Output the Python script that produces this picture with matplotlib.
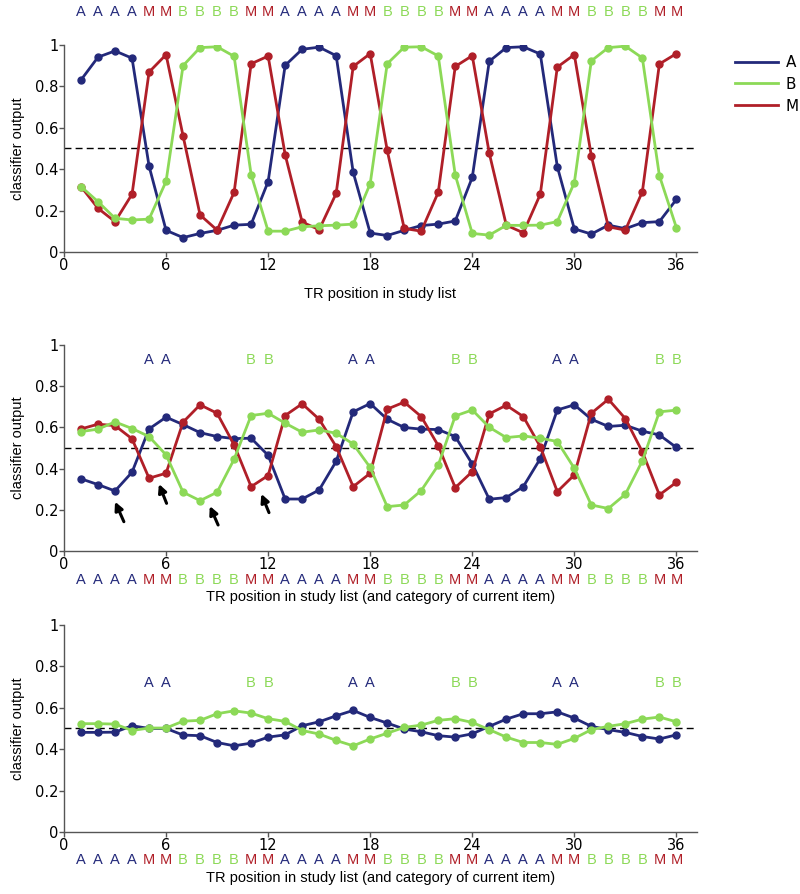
"""
Classifier output across TR positions in the study list (three panels).
"""

import matplotlib.pyplot as plt
from matplotlib.lines import Line2D

# category sequence of the study list (one per TR)
categories = list("AAAAMMBBBBMM" * 3)
tr = list(range(1, 37))

# top panel
top_a = [0.83, 0.94, 0.97, 0.935, 0.415, 0.105, 0.07, 0.09, 0.105, 0.13, 0.134, 0.34,
         0.90, 0.978, 0.988, 0.947, 0.385, 0.092, 0.08, 0.105, 0.128, 0.135, 0.15, 0.36,
         0.92, 0.986, 0.99, 0.955, 0.412, 0.112, 0.087, 0.13, 0.113, 0.142, 0.147, 0.254]
top_b = [0.316, 0.243, 0.163, 0.155, 0.159, 0.341, 0.899, 0.986, 0.99, 0.944, 0.374, 0.101,
         0.101, 0.122, 0.127, 0.13, 0.135, 0.33, 0.908, 0.988, 0.99, 0.946, 0.372, 0.09,
         0.082, 0.129, 0.129, 0.13, 0.147, 0.335, 0.922, 0.986, 0.993, 0.936, 0.369, 0.118]
top_m = [0.316, 0.211, 0.147, 0.279, 0.868, 0.952, 0.56, 0.179, 0.106, 0.288, 0.908, 0.945,
         0.47, 0.145, 0.108, 0.283, 0.895, 0.957, 0.491, 0.114, 0.101, 0.288, 0.895, 0.947,
         0.477, 0.13, 0.093, 0.279, 0.892, 0.952, 0.464, 0.122, 0.106, 0.291, 0.907, 0.957]

# middle panel
mid_a = [0.35, 0.322, 0.291, 0.382, 0.592, 0.649, 0.613, 0.574, 0.555, 0.545, 0.547, 0.464,
         0.252, 0.252, 0.296, 0.435, 0.675, 0.715, 0.639, 0.599, 0.591, 0.589, 0.555, 0.422,
         0.251, 0.259, 0.312, 0.448, 0.684, 0.709, 0.639, 0.604, 0.61, 0.581, 0.563, 0.502]
mid_b = [0.579, 0.591, 0.626, 0.594, 0.555, 0.466, 0.285, 0.244, 0.285, 0.445, 0.657, 0.668,
         0.62, 0.576, 0.587, 0.571, 0.519, 0.405, 0.215, 0.223, 0.293, 0.416, 0.655, 0.684,
         0.6, 0.55, 0.558, 0.547, 0.531, 0.401, 0.223, 0.206, 0.275, 0.437, 0.675, 0.683]
mid_m = [0.592, 0.615, 0.608, 0.544, 0.353, 0.377, 0.625, 0.709, 0.668, 0.515, 0.312, 0.366,
         0.657, 0.714, 0.639, 0.506, 0.312, 0.377, 0.688, 0.722, 0.652, 0.511, 0.307, 0.385,
         0.665, 0.707, 0.652, 0.506, 0.288, 0.369, 0.668, 0.736, 0.642, 0.481, 0.272, 0.333]

# bottom panel
bot_a = [0.481, 0.481, 0.482, 0.513, 0.5, 0.5, 0.468, 0.465, 0.432, 0.416, 0.429, 0.458,
         0.469, 0.513, 0.532, 0.561, 0.587, 0.553, 0.526, 0.497, 0.484, 0.465, 0.458, 0.474,
         0.51, 0.545, 0.571, 0.571, 0.58, 0.55, 0.51, 0.494, 0.481, 0.461, 0.449, 0.469]
bot_b = [0.523, 0.523, 0.521, 0.49, 0.502, 0.502, 0.535, 0.539, 0.571, 0.585, 0.574, 0.547,
         0.534, 0.49, 0.473, 0.442, 0.416, 0.449, 0.477, 0.505, 0.516, 0.539, 0.547, 0.529,
         0.494, 0.458, 0.432, 0.432, 0.423, 0.452, 0.494, 0.51, 0.523, 0.545, 0.555, 0.532]

# TR pairs flagged above the curves in the lower panels
flag_x = [5, 6, 11, 12, 17, 18, 23, 24, 29, 30, 35, 36]
flag_cat = list("AABBAABBAABB")

# arrows in middle panel: (tail x, tail y, head x, head y)
arrows = [(3.52, 0.142, 3.0, 0.239), (6.03, 0.231, 5.58, 0.325),
          (9.06, 0.126, 8.57, 0.218), (12.05, 0.186, 11.6, 0.277)]

COLORS = {"A": "#23297a", "B": "#8cd957", "M": "#b01f28"}
LABEL_FONT = ["Liberation Sans", "DejaVu Sans"]


def style_axes(ax):
    ax.set_xlim(0, 37.2)
    ax.set_ylim(0, 1)
    ax.set_xticks(range(0, 37, 6))
    ax.set_yticks([0, 0.2, 0.4, 0.6, 0.8, 1])
    ax.set_yticklabels(["0", "0.2", "0.4", "0.6", "0.8", "1"])
    for side in ("top", "right"):
        ax.spines[side].set_visible(False)
    for side in ("left", "bottom"):
        ax.spines[side].set_color("#555555")
        ax.spines[side].set_linewidth(1.0)
    ax.tick_params(direction="out", length=3.5, width=1, color="#555555",
                   labelsize=10.5, pad=0.5)
    ax.axhline(0.5, color="black", lw=1, ls=(0, (5, 3)), xmax=1.0, clip_on=False)
    ax.set_ylabel("classifier output", fontsize=10.5, family=LABEL_FONT, labelpad=7)


def plot_series(ax, ys, cat):
    ax.plot(tr, ys, color=COLORS[cat], lw=2, marker="o", ms=5, zorder=3)


def category_row(ax, y, transform):
    for x, c in zip(tr, categories):
        ax.text(x, y, c, color=COLORS[c], ha="center", va="center",
                fontsize=10.5, family=LABEL_FONT, transform=transform,
                clip_on=False)


fig = plt.figure(figsize=(8, 8.94), dpi=100)
left, width = 0.08, 0.791

# top panel
ax1 = fig.add_axes([left, 0.718, width, 0.232])
plot_series(ax1, top_a, "A")
plot_series(ax1, top_m, "M")
plot_series(ax1, top_b, "B")
style_axes(ax1)
category_row(ax1, 1.16, ax1.get_xaxis_transform())
ax1.set_xlabel("TR position in study list", fontsize=10.5, family=LABEL_FONT,
               labelpad=10)

handles = [Line2D([], [], color=COLORS[c], lw=2) for c in "ABM"]
fig.legend(handles, list("ABM"), loc="upper left", bbox_to_anchor=(0.902, 0.954),
           frameon=False, fontsize=11, handlelength=2.8, labelspacing=0.45,
           handletextpad=0.5)

# middle panel
ax2 = fig.add_axes([left, 0.3837, width, 0.2306])
plot_series(ax2, mid_a, "A")
plot_series(ax2, mid_m, "M")
plot_series(ax2, mid_b, "B")
style_axes(ax2)
category_row(ax2, -0.142, ax2.get_xaxis_transform())
for x, c in zip(flag_x, flag_cat):
    ax2.text(x, 0.927, c, color=COLORS[c], ha="center", va="center",
             fontsize=10.5, family=LABEL_FONT)
for tx, ty, hx, hy in arrows:
    ax2.annotate("", xy=(hx, hy), xytext=(tx, ty),
                 arrowprops=dict(arrowstyle="-|>", color="black", lw=2.2,
                                 mutation_scale=12, shrinkA=0, shrinkB=0))
ax2.set_xlabel("TR position in study list (and category of current item)",
               fontsize=10.5, family=LABEL_FONT, labelpad=13)

# bottom panel
ax3 = fig.add_axes([left, 0.0694, width, 0.2316])
plot_series(ax3, bot_a, "A")
plot_series(ax3, bot_b, "B")
style_axes(ax3)
category_row(ax3, -0.134, ax3.get_xaxis_transform())
for x, c in zip(flag_x, flag_cat):
    ax3.text(x, 0.72, c, color=COLORS[c], ha="center", va="center",
             fontsize=10.5, family=LABEL_FONT)
ax3.set_xlabel("TR position in study list (and category of current item)",
               fontsize=10.5, family=LABEL_FONT, labelpad=13)

fig.savefig("out.png", dpi=100)
plt.close(fig)
